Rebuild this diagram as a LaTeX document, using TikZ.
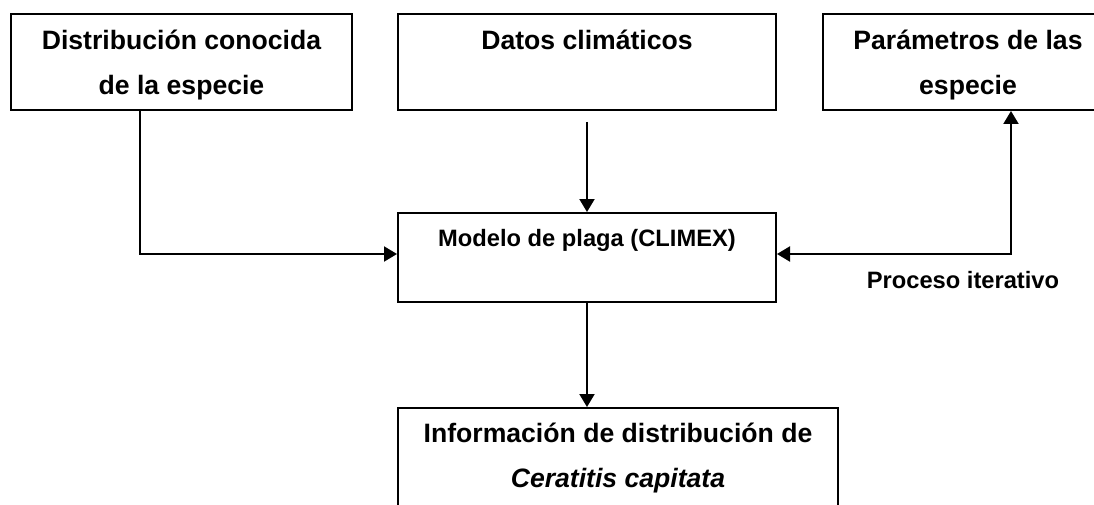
\documentclass[tikz,border=0pt]{standalone}
\usepackage{fontspec}
\setmainfont{Liberation Sans}
\usepackage{tikz}
\usetikzlibrary{arrows.meta}

\tikzset{
	caja/.style={rectangle,draw,line width=2pt,inner sep=0pt},
	texto/.style={anchor=north,align=center,inner sep=0pt,font=\fontsize{26.6}{45}\selectfont\bfseries},
	textochico/.style={texto,font=\fontsize{23.7}{40}\selectfont\bfseries},
	flecha/.style={line width=2pt,-{Triangle[length=13pt,width=15pt]}},
	doble/.style={line width=2pt,{Triangle[length=13pt,width=15pt]}-{Triangle[length=13pt,width=15pt]}},
}

\begin{document}
\begin{tikzpicture}[x=1pt,y=-1pt]
		\clip (0,0) rectangle (1094,505);
%		\draw[help lines] (0,0) grid[step=50] (1094,505);
		\path (181.5,62) coordinate (dist_c);
		\path (587,62) coordinate (clima_c);
		\path (968,62) coordinate (param_c);
		\path (587,257.5) coordinate (modelo_c);
		\path (618,474) coordinate (info_c);

		\path (140,254) coordinate (codo_izq);
		\path (1011,254) coordinate (codo_der);
		\path (963,288) coordinate (proceso_c);

		\node[caja,minimum width=341pt,minimum height=96pt] (dist) at (dist_c) {};
		\node[texto] (dist_t) at ([yshift=-16.6pt]dist.north) {Distribución conocida\\de la especie};

		\node[caja,minimum width=378pt,minimum height=96pt] (clima) at (clima_c) {};
		\node[texto] (clima_t) at ([yshift=-16.6pt]clima.north) {Datos climáticos};

		\node[caja,minimum width=290pt,minimum height=96pt] (param) at (param_c) {};
		\node[texto] (param_t) at ([yshift=-16.6pt]param.north) {Parámetros de las\\especie};

		\node[caja,minimum width=378pt,minimum height=89pt] (modelo) at (modelo_c) {};
		\node[textochico] (modelo_t) at ([yshift=-16.7pt]modelo.north) {Modelo de plaga (CLIMEX)};

		\node[caja,minimum width=440pt,minimum height=132pt] (info) at (info_c) {};
		\node[texto] (info_t) at ([yshift=-15.6pt]info.north) {Información de distribución de\\\textit{Ceratitis capitata}};

		\draw[flecha] (codo_izq |- dist.south) -- (codo_izq) -- (codo_izq -| modelo.west);
		\draw[flecha] ([yshift=-11pt]clima.south) -- (modelo.north);
		\draw[doble] (codo_der -| modelo.east) -- (codo_der) -- (codo_der |- param.south);
		\draw[flecha] (modelo.south) -- (modelo.south |- info.north);

		\node[anchor=base,inner sep=0pt,font=\fontsize{23.7}{28}\selectfont\bfseries] (proceso) at (proceso_c) {Proceso iterativo};
\end{tikzpicture}
\end{document}
